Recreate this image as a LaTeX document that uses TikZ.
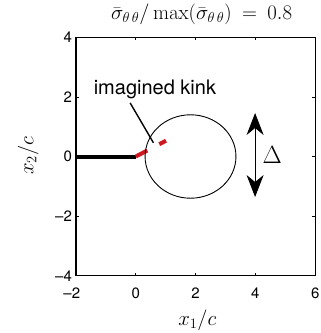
\documentclass[tikz,border=0pt]{standalone}
\usepackage[no-math]{fontspec}
\setmainfont{TeX Gyre Heros}
\usetikzlibrary{arrows.meta}
\definecolor{kinkred}{RGB}{206,24,32}
\begin{document}
\begin{tikzpicture}[x=29.9pt, y=29.8pt, every node/.style={font=\fontsize{15}{18}\selectfont}]
    \useasboundingbox (-4.542,-5.923) rectangle (6.194,5.252);

    % Caixa dos eixos
    \draw[line width=1.1pt] (-2,-4) rectangle (6,4);

    % Marcas e rótulos do eixo x
    \foreach \x/\lab in {-2/\llap{\textendash}2, 0/0, 2/2, 4/4, 6/6} {
        \draw[line width=0.7pt] (\x,-4) -- ++(0,0.1);
        \draw[line width=0.7pt] (\x,4) -- ++(0,-0.1);
        \node[anchor=base] (xt\x) at (\x,-4.765) {\lab};
    }

    % Marcas e rótulos do eixo y
    \foreach \y/\lab in {-4/\textendash4, -2/\textendash2, 0/0, 2/2, 4/4} {
        \draw[line width=0.7pt] (-2,\y) -- ++(0.1,0);
        \draw[line width=0.7pt] (6,\y) -- ++(-0.1,0);
        \node[anchor=east, inner sep=0pt] (yt\y) at (-2.13,\y) {\lab};
    }

    % Títulos dos eixos
    \node[font=\fontsize{20}{24}\selectfont] (xlab) at (2.06,-5.49) {$x_1/c$};
    \node[font=\fontsize{20}{24}\selectfont, rotate=90] (ylab) at (-3.6,0.02) {$x_2/c$};
    \node[font=\fontsize{22.5}{26}\selectfont, inner sep=0pt] (titulo) at (2.2,4.78)
        {$\bar{\sigma}_{\theta\,\theta}/\max(\bar{\sigma}_{\theta\,\theta})\:=\:0.8$};

    % Trinca
    \draw[line width=4pt] (-2,0) -- (0,0);
    \draw[line width=4pt, kinkred, dash pattern=on 13pt off 13.5pt] (0,0) -- (1.01,0.53);

    % Zona circular
    \draw[line width=0.9pt] (1.83,0) ellipse [x radius=1.52, y radius=1.40];

    % Legenda da dobra
    \node[font=\fontsize{20}{24}\selectfont, anchor=base] (kink) at (0.64,2.087) {imagined kink};
    \coordinate (kinkstart) at (-0.19,1.8);
    \coordinate (kinktip) at (0.59,0.46);
    \draw[line width=1.4pt] (kinkstart) -- (kinktip);

    % Seta de deslocamento
    \coordinate (dtop) at (3.99,1.46);
    \coordinate (dbot) at (3.99,-1.36);
    \draw[line width=0.9pt, {Stealth[length=22pt,width=17pt,inset=7pt]}-{Stealth[length=22pt,width=17pt,inset=7pt]}] (dtop) -- (dbot);
    \node[font=\fontsize{24}{28}\selectfont] (delta) at (4.56,0.05) {$\Delta$};
\end{tikzpicture}
\end{document}
